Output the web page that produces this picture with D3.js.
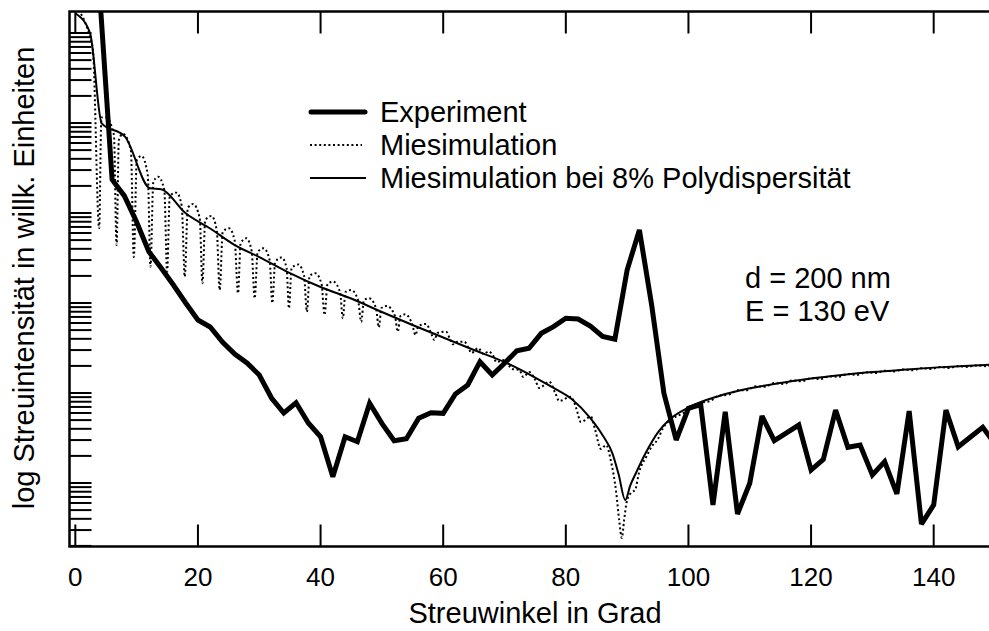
<!DOCTYPE html>
<html><head><meta charset="utf-8">
<script src="https://cdn.jsdelivr.net/npm/d3@7"></script>
<style>
body{margin:0;background:#fff}
svg{display:block}
text{font-family:"Liberation Sans",Arial,Helvetica,sans-serif;fill:#000}
</style>
</head><body>
<svg id="chart" width="989" height="631"></svg>
<script>
// ---- data (intensities stored as log10 of arbitrary units) ----
const expAngle = [4,6,8,10,12,14,16,18,20,22,24,26,28,30,32,34,36,38,40,42,44,46,48,50,52,54,56,58,60,62,64,66,68,70,72,74,76,78,80,82,84,86,88,90,92,94,96,98,100,102,104,106,108,110,112,114,116,118,120,122,124,126,128,130,132,134,136,138,140,142,144,146,148,150];
const expLog10 = [5.4,3.37,3.19,2.9,2.57,2.389,2.2,2.0,1.811,1.733,1.567,1.433,1.333,1.2,0.944,0.778,0.892,0.667,0.514,0.07,0.514,0.459,0.886,0.663,0.47,0.492,0.719,0.781,0.774,0.989,1.089,1.348,1.2,1.33,1.47,1.497,1.663,1.737,1.83,1.822,1.744,1.628,1.597,2.367,2.811,1.978,0.997,0.478,0.83,0.872,-0.244,0.792,-0.344,-0.003,0.744,0.47,0.556,0.644,0.144,0.263,0.811,0.397,0.422,0.089,0.237,-0.122,0.8,-0.456,-0.244,0.811,0.403,0.511,0.619,0.433];

const mieAngle = [0,2.05,2.87,3.89,4.25,4.98,6.29,6.73,7.1,7.75,9.06,9.54,10.03,10.8,11.82,12.26,12.72,13.5,14.51,14.97,15.41,16.5,17.36,17.85,18.34,19.2,20.29,20.73,21.19,22.2,23.06,23.55,24.04,25.07,26.0,26.53,26.97,27.9,28.76,29.25,29.74,30.72,31.69,32.13,32.59,33.65,34.46,34.84,35.28,36.38,37.31,37.77,38.21,39.15,40.16,40.65,41.14,42.05,43.18,43.63,44.07,45.0,46.11,46.63,47.08,47.92,49.04,49.5,49.93,50.8,52.13,52.59,53.03,53.84,54.98,55.47,55.96,57.21,58.08,58.57,59.05,60.47,61.17,61.55,61.99,63.45,64.27,64.59,65.73,66.55,67.41,68.18,68.67,69.97,70.78,71.27,72.41,73.06,74.04,75.02,75.67,77.3,78.28,78.93,80.83,81.69,82.46,84.09,84.79,85.72,86.58,87.39,88.21,88.7,89.14,89.51,90.0,90.81,91.3,91.96,93.1,94.07,94.93,95.86,97.5,99,100.5,102,103.5,105,106.5,108,109.5,111,112.5,114,115.5,117,118.5,120,121.5,123,124.5,126,127.5,129,130.5,132,133.5,135,136.5,138,139.5,141,142.5,144,145.5,147,148.5,150];
const mieLog10 = [5.29,5.03,4.81,2.83,4.06,4.06,3.87,2.644,3.81,3.88,3.7,2.511,3.59,3.633,3.42,2.403,3.344,3.403,3.256,2.348,3.189,3.226,3.078,2.292,3.056,3.1,2.944,2.219,2.922,2.967,2.811,2.144,2.789,2.83,2.689,2.108,2.667,2.719,2.578,2.052,2.567,2.608,2.478,2.0,2.456,2.506,2.389,1.941,2.389,2.428,2.3,1.903,2.3,2.33,2.211,1.867,2.211,2.237,2.122,1.83,2.122,2.144,2.033,1.792,2.033,2.052,1.944,1.73,1.944,1.967,1.856,1.681,1.856,1.874,1.756,1.644,1.744,1.767,1.656,1.589,1.667,1.681,1.589,1.541,1.567,1.57,1.478,1.444,1.5,1.433,1.461,1.411,1.344,1.367,1.3,1.267,1.256,1.178,1.233,1.144,1.056,1.126,1.0,0.911,0.959,0.833,0.678,0.737,0.589,0.378,0.422,0.233,-0.1,-0.411,-0.611,-0.411,-0.189,-0.1,-0.078,0.122,0.289,0.411,0.478,0.611,0.72,0.77,0.83,0.89,0.91,0.97,0.98,1.03,1.03,1.075,1.07,1.11,1.10,1.14,1.13,1.165,1.155,1.185,1.18,1.21,1.20,1.232,1.222,1.248,1.24,1.262,1.252,1.276,1.266,1.288,1.278,1.298,1.29,1.307,1.298,1.318];

const polyAngle = [0,2.4,4.3,8.1,12.2,14,18,22,26,30,35,40,45,50,55,60,65,70,75,78,81,84,86,87.6,88.6,89.7,90.5,91.5,93,95,97,100,105,110,115,120,125,130,135,140,145,150];
const polyLog10 = [5.22,5.0,3.997,3.848,3.274,3.263,2.997,2.828,2.644,2.511,2.333,2.178,2.05,1.9,1.756,1.617,1.478,1.344,1.172,1.056,0.93,0.72,0.53,0.33,0.1,-0.19,-0.03,0.12,0.33,0.56,0.71,0.839,0.967,1.052,1.111,1.161,1.2,1.233,1.259,1.282,1.3,1.317];

const xTicks = [0,20,40,60,80,100,120,140];
const yDecades = [-1,0,1,2,3,4,5];
const yMinorMultipliers = [1,2,3,4,5,6,7,8,9];
const legendLabels = ["Experiment","Miesimulation","Miesimulation bei 8% Polydispersität"];
const noteLines = ["d = 200 nm","E = 130 eV"];
const xTitle = "Streuwinkel in Grad";
const yTitle = "log Streuintensität in willk. Einheiten";

// ---- layout ----
const svg = d3.select("#chart");
const L = 69.5, T = 11.5, B = 546.5, R = 995;
const x = d3.scaleLinear().domain([-0.95,150]).range([L,R]);
const y = d3.scaleLog().domain([0.197,1.734e5]).range([B,T]);

svg.append("rect").attr("width",989).attr("height",631).attr("fill","#fff");
svg.append("defs").append("clipPath").attr("id","clip")
  .append("rect").attr("x",L).attr("y",T).attr("width",R-L).attr("height",B-T);

const toPts = (xs,ls) => xs.map((a,i)=>[a,Math.pow(10,ls[i])]);
const g = svg.append("g").attr("clip-path","url(#clip)");

g.append("path").datum(toPts(polyAngle,polyLog10))
  .attr("d",d3.line().x(d=>x(d[0])).y(d=>y(d[1])).curve(d3.curveMonotoneX))
  .attr("fill","none").attr("stroke","#000").attr("stroke-width",2);

g.append("path").datum(toPts(mieAngle,mieLog10))
  .attr("d",d3.line().x(d=>x(d[0])).y(d=>y(d[1])).curve(d3.curveMonotoneX))
  .attr("fill","none").attr("stroke","#000").attr("stroke-width",2)
  .attr("stroke-dasharray","2,2.6");

g.append("path").datum(toPts(expAngle,expLog10))
  .attr("d",d3.line().x(d=>x(d[0])).y(d=>y(d[1])))
  .attr("fill","none").attr("stroke","#000").attr("stroke-width",5)
  .attr("stroke-linejoin","miter").attr("stroke-miterlimit",2.5);

// ---- axes ----
const ax = svg.append("g").attr("stroke","#000");
const tickLen = 22;
xTicks.forEach(t=>{
  ax.append("line").attr("x1",x(t)).attr("x2",x(t)).attr("y1",B).attr("y2",B-tickLen).attr("stroke-width",2);
  ax.append("line").attr("x1",x(t)).attr("x2",x(t)).attr("y1",T).attr("y2",T+tickLen).attr("stroke-width",2);
});
const yTickVals = [];
yDecades.forEach(e=>yMinorMultipliers.forEach(k=>{
  const v = k*Math.pow(10,e);
  if (v >= y.domain()[0]*0.99 && v <= y.domain()[1]) yTickVals.push(v);
}));
yTickVals.forEach(v=>{
  ax.append("line").attr("x1",L).attr("x2",L+tickLen).attr("y1",y(v)).attr("y2",y(v)).attr("stroke-width",2);
});
ax.append("path").attr("d",`M${R+10},${T}H${L}V${B}H${R+10}`).attr("fill","none").attr("stroke-width",2.5);

svg.append("g").selectAll("text").data(xTicks).join("text")
  .attr("x",d=>x(d)).attr("y",586).attr("text-anchor","middle")
  .attr("font-size",26).text(d=>d);

svg.append("text").attr("x",535).attr("y",623).attr("text-anchor","middle")
  .attr("font-size",29).text(xTitle);
svg.append("text").attr("transform","translate(33.5,278) rotate(-90)")
  .attr("text-anchor","middle").attr("font-size",29).text(yTitle);

// ---- legend ----
const legY = [112,145,178];
const lg = svg.append("g");
lg.append("line").attr("x1",311).attr("x2",365).attr("y1",legY[0]).attr("y2",legY[0])
  .attr("stroke","#000").attr("stroke-width",5).attr("stroke-linecap","round");
lg.append("line").attr("x1",310).attr("x2",362).attr("y1",legY[1]).attr("y2",legY[1])
  .attr("stroke","#000").attr("stroke-width",2).attr("stroke-dasharray","2,2.6");
lg.append("line").attr("x1",310).attr("x2",366).attr("y1",legY[2]).attr("y2",legY[2])
  .attr("stroke","#000").attr("stroke-width",2);
legendLabels.forEach((s,i)=>{
  lg.append("text").attr("x",380).attr("y",legY[i]+9.5).attr("font-size",29).text(s);
});
noteLines.forEach((s,i)=>{
  svg.append("text").attr("x",745).attr("y",288+i*33).attr("font-size",29).text(s);
});
</script>
</body></html>
